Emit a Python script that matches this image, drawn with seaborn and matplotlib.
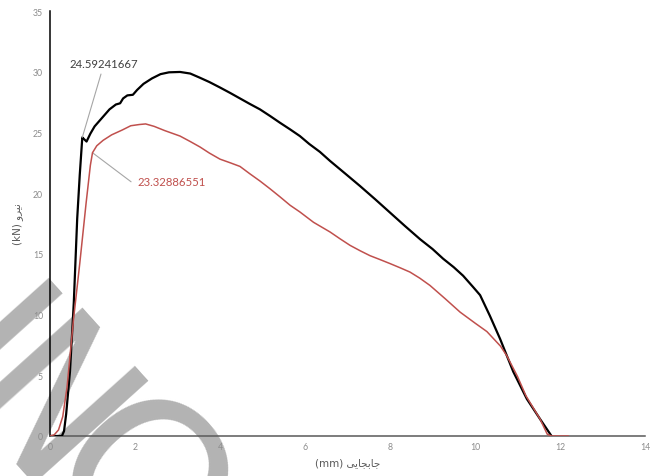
import matplotlib
matplotlib.use("Agg")
import matplotlib.pyplot as plt
import seaborn as sns
import pandas as pd

# Load-displacement curves of the two specimens
black_x = [0.0, 0.28, 0.33, 0.38, 0.47, 0.56, 0.64, 0.70, 0.76, 0.80, 0.86, 0.95, 1.05, 1.20,
           1.40, 1.55, 1.65, 1.72, 1.82, 1.95, 2.05, 2.20, 2.40, 2.60, 2.80, 3.06, 3.30,
           3.53, 3.75, 4.00, 4.24, 4.47, 4.70, 4.94, 5.18, 5.41, 5.65, 5.88, 6.10, 6.35,
           6.59, 6.95, 7.29, 7.65, 8.00, 8.35, 8.71, 9.00, 9.25, 9.50, 9.72, 9.96, 10.12,
           10.35, 10.59, 10.90, 11.22, 11.53, 11.80]
black_y = [0.0, 0.0, 0.4, 1.8, 5.3, 11.0, 17.9, 21.5, 24.59241667, 24.45, 24.25, 24.9, 25.5,
           26.1, 26.9, 27.3, 27.4, 27.8, 28.05, 28.1, 28.5, 29.0, 29.45, 29.8, 29.95, 29.98,
           29.85, 29.5, 29.15, 28.7, 28.25, 27.8, 27.35, 26.9, 26.35, 25.8, 25.25, 24.7,
           24.05, 23.4, 22.65, 21.6, 20.6, 19.5, 18.4, 17.3, 16.2, 15.4, 14.6, 13.9, 13.2,
           12.25, 11.6, 9.9, 8.0, 5.3, 3.05, 1.4, 0.0]

red_x = [0.0, 0.10, 0.20, 0.30, 0.40, 0.55, 0.70, 0.85, 0.95, 1.00, 1.10, 1.25, 1.45, 1.70,
         1.90, 2.10, 2.25, 2.45, 2.70, 3.06, 3.30, 3.53, 3.75, 4.00, 4.24, 4.47, 4.70, 4.94,
         5.18, 5.41, 5.65, 5.88, 6.20, 6.59, 6.82, 7.06, 7.30, 7.53, 7.75, 8.00, 8.24, 8.47,
         8.70, 8.94, 9.30, 9.65, 10.00, 10.28, 10.60, 10.75, 11.00, 11.20, 11.53, 11.70,
         11.80, 12.20]
red_y = [0.0, 0.1, 0.5, 1.6, 4.0, 9.5, 14.2, 19.2, 22.3, 23.32886551, 23.9, 24.35, 24.8,
         25.2, 25.55, 25.65, 25.7, 25.5, 25.15, 24.7, 24.25, 23.8, 23.3, 22.8, 22.5, 22.2,
         21.6, 21.0, 20.35, 19.7, 19.0, 18.45, 17.6, 16.8, 16.25, 15.7, 15.25, 14.85, 14.55,
         14.2, 13.85, 13.5, 13.0, 12.4, 11.3, 10.2, 9.3, 8.6, 7.4, 6.6, 4.9, 3.3, 1.4, 0.15,
         0.0, 0.0]

x_ticks = [0, 2, 4, 6, 8, 10, 12, 14]
y_ticks = [0, 5, 10, 15, 20, 25, 30, 35]

black_peak = (0.76, 24.59241667)
red_peak = (1.00, 23.32886551)

# Persian labels in presentation forms, visual order
x_label = "(mm) \uFBFD\uFBFE\uFE8E\uFEA0\uFE91\uFE8E\uFE9F"
y_label = "(kN) \uFEED\uFEAE\uFBFF\uFEE7"

sns.set_theme(style="white")
plt.rcParams["font.family"] = ["Lato", "DejaVu Sans"]

fig = plt.figure(figsize=(6.51, 4.77), dpi=100)
ax = fig.add_axes([50 / 651, 40 / 477, 595 / 651, 425 / 477])
ax.patch.set_alpha(0)

# light grey stamp lettering in the lower-left corner, behind the plot
stamp = dict(rotation=-48, rotation_mode="anchor", ha="center", va="baseline",
             fontsize=152, color="#b3b3b3", zorder=-5)
fig.text(-67 / 651, 1 - 403 / 477, "I", family=["DejaVu Sans"], **stamp)
fig.text(-4.5 / 651, 1 - 457 / 477, "N", family=["DejaVu Sans Mono"], **stamp)
fig.text(88 / 651, 1 - 536 / 477, "O", family=["DejaVu Sans"], **stamp)

df_black = pd.DataFrame({"x": black_x, "y": black_y})
df_red = pd.DataFrame({"x": red_x, "y": red_y})
sns.lineplot(data=df_black, x="x", y="y", ax=ax, sort=False, estimator=None,
             color="black", linewidth=1.6, zorder=3)
sns.lineplot(data=df_red, x="x", y="y", ax=ax, sort=False, estimator=None,
             color="#c0504d", linewidth=1.1, zorder=4)

ax.set_xlim(0, 14)
ax.set_ylim(0, 35)
ax.set_xticks(x_ticks)
ax.set_yticks(y_ticks)
ax.tick_params(axis="both", length=0, labelsize=6.3, labelcolor="#8c8c8c")
ax.tick_params(axis="x", pad=4)
ax.tick_params(axis="y", pad=5)

for side in ["top", "right"]:
    ax.spines[side].set_visible(False)
ax.spines["left"].set_color("#000000")
ax.spines["left"].set_linewidth(1.1)
ax.spines["bottom"].set_color("#595959")
ax.spines["bottom"].set_linewidth(1.1)

ax.set_xlabel(x_label, fontsize=7.5, color="#595959", labelpad=5,
              family=["DejaVu Sans"])
ax.set_ylabel(y_label, fontsize=7.5, color="#595959", labelpad=7,
              family=["DejaVu Sans"])

ax.annotate("24.59241667", xy=black_peak, xytext=(1.27, 30.64),
            ha="center", va="center", fontsize=8.2, color="#404040",
            arrowprops=dict(arrowstyle="-", color="#a6a6a6", lw=0.8,
                            shrinkA=1, shrinkB=0))
ax.annotate("23.32886551", xy=red_peak, xytext=(2.05, 20.92),
            ha="left", va="center", fontsize=8.2, color="#c0504d",
            arrowprops=dict(arrowstyle="-", color="#a6a6a6", lw=0.8,
                            shrinkA=2, shrinkB=0, relpos=(0, 0.5),
                            connectionstyle="angle,angleA=0,angleB=-37,rad=0"))

fig.savefig("out.png", dpi=100)
